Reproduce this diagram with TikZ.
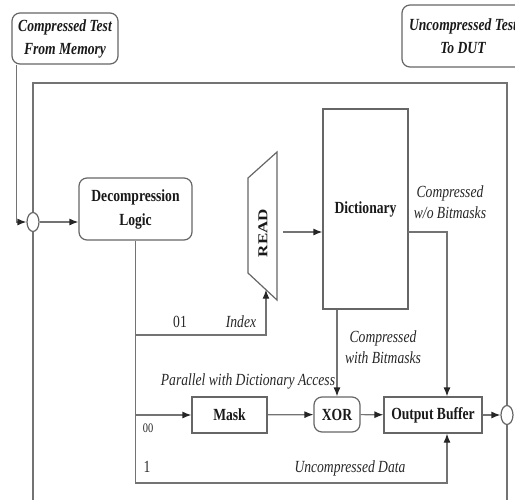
\documentclass[tikz,border=0pt]{standalone}
\usepackage{fontspec}
\setmainfont{Liberation Serif}[FakeStretch=0.8]
\newfontfamily\upserif{Liberation Serif}
\usepackage{tikz}
\usetikzlibrary{arrows.meta, calc, shapes.geometric}

\tikzset{
  wire/.style={black!55, line width=1.2pt},
  flow/.style={wire, -{Latex[length=9pt, width=7pt, color=black!85]}},
  blk/.style={draw=black!60, line width=1.2pt, fill=white, inner sep=0pt,
    align=center, text=black!90, font=\fontsize{17}{24}\selectfont\bfseries},
  rblk/.style={blk, rounded corners=8pt},
  iobox/.style={rblk, font=\fontsize{17}{23}\selectfont\bfseries\itshape},
  joint/.style={draw=black!60, line width=1.2pt, ellipse, fill=white,
    minimum width=12pt, minimum height=19pt, inner sep=0pt},
  lbl/.style={text=black!85, align=center, font=\fontsize{17}{21}\selectfont\itshape},
  bit/.style={text=black!85, font=\fontsize{17}{21}\selectfont},
}

\begin{document}
\begin{tikzpicture}[x=1pt, y=-1pt]
\clip (0,0) rectangle (515,499);

%-- source and sink of the test data
\node[iobox, minimum width=106pt, minimum height=51pt] (src) at (65,38.5)
  {Compressed Test\\From Memory};
\node[iobox, minimum width=122pt, minimum height=62pt] (dut) at (463,36)
  {Uncompressed Test\\To DUT};

%-- join points on the feedback loop
\node[joint] (join1) at (33,222) {};
\node[joint] (join2) at (507,415) {};

%-- main blocks
\node[rblk, minimum width=113pt, minimum height=62pt] (decomp) at (135.5,209)
  {Decompression\\Logic};
\node[blk, minimum width=85pt, minimum height=200pt] (dict) at (365.5,209) {Dictionary};
\node[blk, minimum width=75pt, minimum height=36pt] (mask) at (229.5,415) {Mask};
\node[rblk, minimum width=46pt, minimum height=35pt] (xor) at (337,414.5) {XOR};
\node[blk, minimum width=98pt, minimum height=36pt] (obuf) at (433,415) {Output Buffer};

%-- READ port (trapezoid, wide side towards the dictionary)
\coordinate (rtl) at (248,178);
\coordinate (rbl) at (248,273);
\coordinate (rtr) at (277,152);
\coordinate (rbr) at (277,300);
\draw[draw=black!60, line width=1.2pt] (rtl) -- (rtr) -- (rbr) -- (rbl) -- cycle;
\node[rotate=90, text=black!90] (read) at (263,233)
  {\upserif\bfseries\fontsize{17}{20}\selectfont\scalebox{1}[0.8]{READ}};

%-- helper points
\coordinate (rIn)   at ($(rbl)!0.62!(rbr)$);
\coordinate (rOut)  at (283,232);
\coordinate (dOut)  at (408,232);
\coordinate (dTurn) at (447,232);
\coordinate (loopNE) at (507,83);

%-- input path into the decompressor
\draw[flow] ($(src.south west)+(5,0)$) |- (join1.west);
\draw[flow] (join1.east) -- (decomp.west |- join1.east);

%-- feedback loop round the whole engine
\draw[wire] (join1.north) |- (loopNE) -- (join2.north);
\draw[wire] (join1.south) -- ++(0,290);
\draw[wire] (join2.south) -- ++(0,100);

%-- branches leaving the decompressor
\draw[flow] (decomp.south |- 0,335) -| (rIn);
\draw[flow] (decomp.south |- mask.west) -- (mask.west);
\draw[flow] (decomp.south) |- (dTurn |- 0,483) -- (dTurn |- obuf.south);

%-- dictionary paths
\draw[flow] (rOut) -- (dict.west |- rOut);
\draw[flow] (dOut) -- (dTurn) -- (dTurn |- obuf.north);
\draw[flow] (dict.south -| xor.north) -- (xor.north);

%-- datapath to the output
\draw[flow] (mask) -- (xor);
\draw[flow] (xor) -- (obuf);
\draw[flow] (obuf) -- (join2);

%-- labels
\node[bit] (l01) at (180,322) {01};
\node[lbl] (lidx) at (241,322) {Index};
\node[lbl] (lpar) at (248,381) {Parallel with Dictionary Access};
\node[bit, font=\fontsize{13}{16}\selectfont] (l00) at (148,428) {00};
\node[bit] (l1) at (147,467) {1};
\node[lbl] (lunc) at (350,468) {Uncompressed Data};
\node[lbl] (lwo) at (450,202) {Compressed\\w/o Bitmasks};
\node[lbl] (lwith) at (383,347) {Compressed\\with Bitmasks};

\end{tikzpicture}
\end{document}
